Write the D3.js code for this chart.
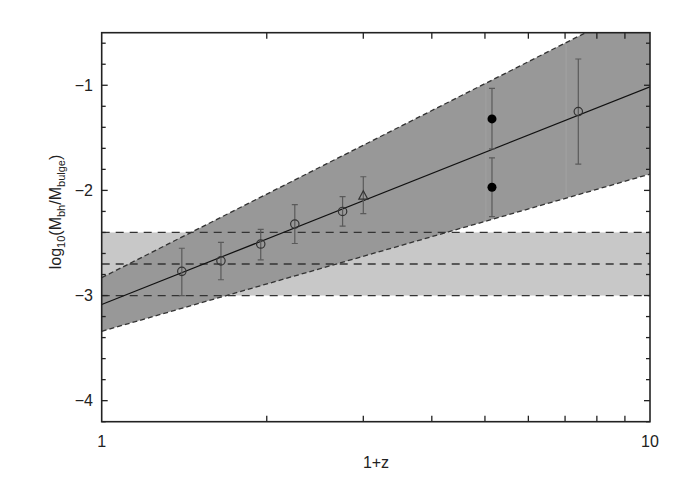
<!DOCTYPE html>
<html><head><meta charset="utf-8">
<script src="https://cdn.jsdelivr.net/npm/d3@7"></script>
<style>body{margin:0;background:#fff}svg{display:block}text{font-family:"Liberation Sans",Arial,sans-serif}</style>
</head><body><svg id="c" width="681" height="487"></svg>
<script>
// ---- data ----
const openX   = [1.40, 1.65, 1.95, 2.25, 2.75, 7.40];
const openY   = [-2.77, -2.67, -2.51, -2.32, -2.20, -1.25];
const openLo  = [-3.00, -2.85, -2.66, -2.505, -2.34, -1.75];
const openHi  = [-2.55, -2.495, -2.37, -2.135, -2.06, -0.75];
const triX    = [3.00];
const triY    = [-2.05];
const triLo   = [-2.22];
const triHi   = [-1.87];
const fillX   = [5.15, 5.15];
const fillY   = [-1.32, -1.97];
const fillLo  = [-1.605, -2.25];
const fillHi  = [-1.03, -1.69];
const bandX     = [1, 10];
const bandUpper = [-2.83, -0.19];
const bandLower = [-3.34, -1.845];
const fitY      = [-3.085, -1.015];
const seamX     = [5.02, 7.03];
const hBand     = [-3.0, -2.4];
const hLines    = [-2.4, -2.7, -3.0];
const yTicks    = [-4, -3, -2, -1];
const yMinor    = d3.range(-4.2, -0.49, 0.2).map(v => +v.toFixed(1));
const xTicks    = [1, 10];
const xMinor    = [2, 3, 4, 5, 6, 7, 8, 9];

// ---- layout ----
const L = 101.7, R = 650, T = 32.7, B = 421.7;
const x = d3.scaleLog().domain([1, 10]).range([L, R]);
const y = d3.scaleLinear().domain([-4.2, -0.5]).range([B, T]);
const svg = d3.select("#c");
svg.append("defs").append("clipPath").attr("id", "clip")
  .append("rect").attr("x", L).attr("y", T).attr("width", R - L).attr("height", B - T);
const g = svg.append("g").attr("clip-path", "url(#clip)");

// light horizontal band
g.append("rect").attr("x", L).attr("width", R - L)
  .attr("y", y(hBand[1])).attr("height", y(hBand[0]) - y(hBand[1]))
  .attr("fill", "#c8c8c8");

// dark fan band
const poly = bandX.map((v, i) => [x(v), y(bandUpper[i])])
  .concat(bandX.map((v, i) => [x(v), y(bandLower[i])]).reverse());
g.append("path").attr("d", "M" + poly.join("L") + "Z").attr("fill", "#989898");
seamX.forEach(s => {
  const t = (Math.log10(s) - Math.log10(bandX[0])) / (Math.log10(bandX[1]) - Math.log10(bandX[0]));
  const up = bandUpper[0] + t * (bandUpper[1] - bandUpper[0]);
  const lo = bandLower[0] + t * (bandLower[1] - bandLower[0]);
  g.append("line").attr("x1", x(s)).attr("x2", x(s)).attr("y1", y(up)).attr("y2", y(lo))
    .attr("stroke", "#a2a2a2").attr("stroke-width", 1);
});
[bandUpper, bandLower].forEach(arr => {
  g.append("line").attr("x1", x(bandX[0])).attr("y1", y(arr[0]))
    .attr("x2", x(bandX[1])).attr("y2", y(arr[1]))
    .attr("stroke", "#333").attr("stroke-width", 1.3).attr("stroke-dasharray", "5,3");
});
// horizontal dashed lines
hLines.forEach(v => {
  g.append("line").attr("x1", L).attr("x2", R).attr("y1", y(v)).attr("y2", y(v))
    .attr("stroke", "#333").attr("stroke-width", 1.3).attr("stroke-dasharray", "8,6");
});
// fit line
g.append("line").attr("x1", x(bandX[0])).attr("y1", y(fitY[0]))
  .attr("x2", x(bandX[1])).attr("y2", y(fitY[1]))
  .attr("stroke", "#111").attr("stroke-width", 1.2);

// error bars
function errbars(xs, lo, hi) {
  xs.forEach((v, i) => {
    const px = x(v);
    g.append("line").attr("x1", px).attr("x2", px).attr("y1", y(lo[i])).attr("y2", y(hi[i]))
      .attr("stroke", "#5a5a5a").attr("stroke-width", 1.2);
    [lo[i], hi[i]].forEach(e => g.append("line").attr("x1", px - 3).attr("x2", px + 3)
      .attr("y1", y(e)).attr("y2", y(e)).attr("stroke", "#5a5a5a").attr("stroke-width", 1.2));
  });
}
errbars(openX, openLo, openHi);
errbars(triX, triLo, triHi);
errbars(fillX, fillLo, fillHi);

openX.forEach((v, i) => g.append("circle").attr("cx", x(v)).attr("cy", y(openY[i])).attr("r", 4.2)
  .attr("fill", "none").attr("stroke", "#333").attr("stroke-width", 1.2));
triX.forEach((v, i) => {
  const px = x(v), py = y(triY[i]);
  g.append("path").attr("d", `M${px},${py - 5}L${px + 4.5},${py + 3.5}L${px - 4.5},${py + 3.5}Z`)
    .attr("fill", "none").attr("stroke", "#333").attr("stroke-width", 1.2);
});
fillX.forEach((v, i) => g.append("circle").attr("cx", x(v)).attr("cy", y(fillY[i])).attr("r", 4.5)
  .attr("fill", "#000"));

// axes frame
const ax = svg.append("g");
ax.append("rect").attr("x", L).attr("y", T).attr("width", R - L).attr("height", B - T)
  .attr("fill", "none").attr("stroke", "#222").attr("stroke-width", 1.6);
// y ticks (left & right, inward)
yMinor.forEach(v => {
  const major = yTicks.includes(v);
  const len = major ? 6 : 4;
  ax.append("line").attr("x1", L).attr("x2", L + len).attr("y1", y(v)).attr("y2", y(v)).attr("stroke", "#222").attr("stroke-width", 1.3);
  ax.append("line").attr("x1", R).attr("x2", R - len).attr("y1", y(v)).attr("y2", y(v)).attr("stroke", "#222").attr("stroke-width", 1.3);
});
xMinor.forEach(v => {
  ax.append("line").attr("x1", x(v)).attr("x2", x(v)).attr("y1", B).attr("y2", B - 6).attr("stroke", "#222").attr("stroke-width", 1.3);
  ax.append("line").attr("x1", x(v)).attr("x2", x(v)).attr("y1", T).attr("y2", T + 6).attr("stroke", "#222").attr("stroke-width", 1.3);
});
// tick labels
yTicks.forEach(v => ax.append("text").attr("x", 93).attr("y", y(v)).attr("dy", "0.36em")
  .attr("text-anchor", "end").attr("font-size", 16).attr("fill", "#222").text("\u2212" + Math.abs(v)));
xTicks.forEach(v => ax.append("text").attr("x", x(v)).attr("y", 447)
  .attr("text-anchor", "middle").attr("font-size", 16).attr("fill", "#222").text(v));
// axis titles
ax.append("text").attr("x", 376).attr("y", 468).attr("text-anchor", "middle")
  .attr("font-size", 16).attr("fill", "#222").text("1+z");
const yt = ax.append("text").attr("transform", "translate(61,212) rotate(-90)")
  .attr("text-anchor", "middle").attr("font-size", 16).attr("fill", "#222");
yt.append("tspan").text("log");
yt.append("tspan").attr("font-size", 11).attr("dy", 4).text("10");
yt.append("tspan").attr("dy", -4).text("(M");
yt.append("tspan").attr("font-size", 11).attr("dy", 4).text("bh");
yt.append("tspan").attr("dy", -4).text("/M");
yt.append("tspan").attr("font-size", 11).attr("dy", 4).text("bulge");
yt.append("tspan").attr("dy", -4).text(")");
</script></body></html>
